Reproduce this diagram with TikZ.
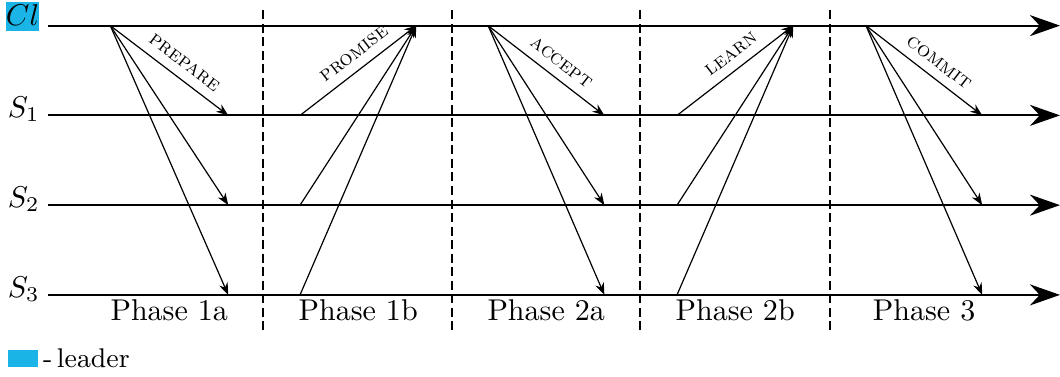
\documentclass[tikz,border=0pt]{standalone}
\usepackage{tikz}
\usetikzlibrary{arrows.meta, positioning, calc}
\definecolor{LeaderBlue}{HTML}{1BB4E6}

\begin{document}
\begin{tikzpicture}[
    lane/.style={line width=0.7pt, -{Stealth[length=10pt, width=7pt]}},
    msg/.style={-{Stealth[length=4pt, width=3pt]}},
    divider/.style={line width=0.6pt, dash pattern=on 3pt off 1.5pt},
    tag/.style={font=\scriptsize\scshape, sloped, above, pos=0.55, inner sep=3pt}
]
    \useasboundingbox (0,0) rectangle (12.40,4.40);
    % time lines of the client and the three servers
    \foreach \lane/\y in {cl/4.10, s1/3.05, s2/2.00, s3/0.95} {
        \coordinate (\lane-l) at (0.56,\y);
        \coordinate (\lane-r) at (12.40,\y);
        \foreach \ph/\xa/\xb in {1a/1.29/2.67, 1b/3.51/4.87, 2a/5.71/7.07, 2b/7.92/9.28, 3/10.13/11.49} {
            \coordinate (\lane-\ph-a) at (\xa,\y);
            \coordinate (\lane-\ph-b) at (\xb,\y);
        }
        \draw[lane] (\lane-l) -- (\lane-r);
    }
    \node[fill=LeaderBlue, inner xsep=0pt, inner ysep=1pt, text height=7pt, text depth=0.7pt, anchor=base east, xshift=-2.7pt] (cl-name) at (cl-l) {$Cl$};
    \foreach \lane/\i in {s1/1, s2/2, s3/3}
        \node[anchor=base east, xshift=0.8pt, yshift=-0.7pt] (\lane-name) at (\lane-l) {$S_\i$};

    % phase borders
    \foreach \x [count=\i] in {3.08, 5.29, 7.49, 9.71} {
        \coordinate (div\i-t) at (\x,4.28);
        \coordinate (div\i-b) at (\x,0.52);
        \draw[divider] (div\i-t) -- (div\i-b);
    }

    % messages
    \draw[msg] (cl-1a-a) -- node[tag] (prepare) {prepare} (s1-1a-b);
    \draw[msg] (s1-1b-a) -- node[tag] (promise) {promise} (cl-1b-b);
    \draw[msg] (cl-2a-a) -- node[tag] (accept) {accept} (s1-2a-b);
    \draw[msg] (s1-2b-a) -- node[tag] (learn) {learn} (cl-2b-b);
    \draw[msg] (cl-3-a) -- node[tag] (commit) {commit} (s1-3-b);
    \foreach \to in {s2, s3} {
        \draw[msg] (cl-1a-a) -- (\to-1a-b);
        \draw[msg] (\to-1b-a) -- (cl-1b-b);
        \draw[msg] (cl-2a-a) -- (\to-2a-b);
        \draw[msg] (\to-2b-a) -- (cl-2b-b);
        \draw[msg] (cl-3-a) -- (\to-3-b);
    }

    % phase names
    \foreach \ph/\name in {1a/Phase 1a, 1b/Phase 1b, 2a/Phase 2a, 2b/Phase 2b, 3/Phase 3}
        \node[below, inner sep=1.5pt] (ph-\ph) at ($(s3-\ph-a)!0.5!(s3-\ph-b)$) {\name};

    % legend
    \node[fill=LeaderBlue, minimum width=10pt, minimum height=5.7pt, inner sep=0pt] (key) at (0.27,0.205) {};
    \node[anchor=base west, inner sep=0pt, xshift=1.3pt, font=\small] (key-label) at (key.south east) {-\,leader};
\end{tikzpicture}
\end{document}
